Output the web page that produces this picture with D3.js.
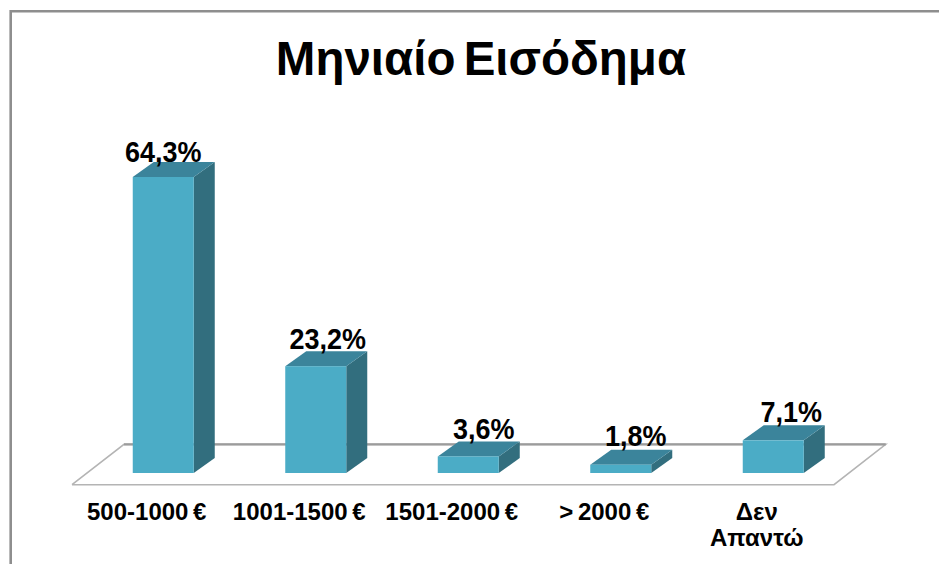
<!DOCTYPE html>
<html><head><meta charset="utf-8">
<script src="https://cdn.jsdelivr.net/npm/d3@7"></script>
<style>html,body{margin:0;padding:0;background:#fff}svg{display:block}text{font-family:"Liberation Sans",Arial,sans-serif;fill:#000}</style>
</head><body><svg id="c" width="939" height="564"></svg>
<script>
const categories = ["500-1000 €","1001-1500 €","1501-2000 €","> 2000 €","Δεν|Απαντώ"];
const values = [64.3,23.2,3.6,1.8,7.1];
const valueLabels = ["64,3%","23,2%","3,6%","1,8%","7,1%"];
const titleText = "Μηνιαίο Εισόδημα";

const svg = d3.select("#c");
const W=939,H=564;
// layout nudges for the hand-placed value labels
const labelDx=[30.5,42.5,46,45.5,48.5], labelDy=[15.5,17,17,19,18];

svg.append("path").attr("d",`M10.7,${H} V11.3 H${W}`).attr("fill","none").attr("stroke","#8e8e8e").attr("stroke-width",2.6);

const dx=21, dy=15;
const x = d3.scaleBand().domain(categories).range([87,849.5]).paddingInner(0.6).paddingOuter(0.3);
const y = d3.scaleLinear().domain([0,64.3]).range([473,177]);

const line = d3.line();
// floor: back edge heavier than the front edge
svg.append("path").attr("d",line([[72,484.7],[124,444.4],[885.7,444.4],[834,484.7],[72,484.7]])).attr("fill","#fff").attr("stroke","#b4b4b4").attr("stroke-width",1.6);
svg.append("path").attr("d",line([[124,444.4],[885.7,444.4]])).attr("fill","none").attr("stroke","#9c9c9c").attr("stroke-width",2.2);

const g = svg.selectAll("g.b").data(categories).join("g").attr("class","b");
g.each(function(c,i){
  const s=d3.select(this), bw=x.bandwidth(), x0=x(c), x1=x0+bw, y0=y(0), yt=y(values[i]);
  s.append("path").attr("d",line([[x1,y0],[x1+dx,y0-dy],[x1+dx,yt-dy],[x1,yt]])+"Z").attr("fill","#326e7e");
  s.append("path").attr("d",line([[x0,yt],[x0+dx,yt-dy],[x1+dx,yt-dy],[x1,yt]])+"Z").attr("fill","#3b849b");
  s.append("rect").attr("x",x0).attr("y",yt).attr("width",bw).attr("height",y0-yt).attr("fill","#4bacc6");
  const t=s.append("text").attr("x",x0+labelDx[i]).attr("y",yt-labelDy[i]).attr("text-anchor","middle")
    .attr("font-size",29).attr("font-weight","bold").text(valueLabels[i]);
  t.attr("textLength",t.node().getComputedTextLength()*0.93).attr("lengthAdjust","spacingAndGlyphs");
  const parts=c.split("|");
  parts.forEach((p,k)=>s.append("text").attr("x",x0+bw/2-16.5).attr("y",520+k*26)
    .attr("text-anchor","middle").attr("font-size",24).attr("font-weight","bold").attr("word-spacing",-2).text(p));
});
svg.append("text").attr("x",481).attr("y",75).attr("text-anchor","middle").attr("font-size",47.5).attr("font-weight","bold").attr("word-spacing",-5).text(titleText);
</script></body></html>
